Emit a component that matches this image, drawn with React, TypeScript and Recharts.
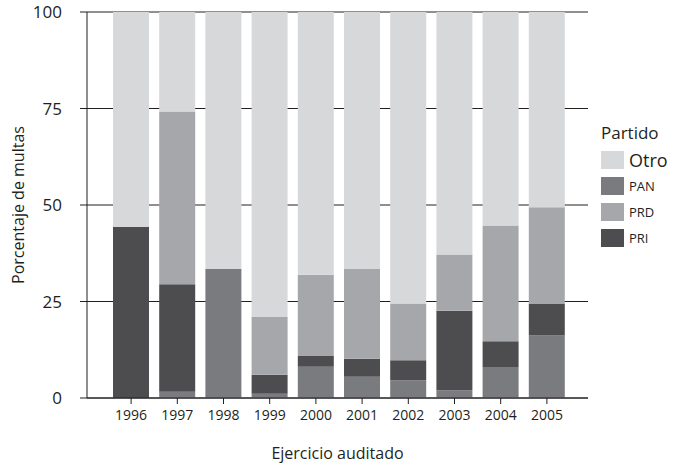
import React from "react";
import { BarChart, Bar, XAxis, YAxis, CartesianGrid } from "recharts";

const years = ["1996", "1997", "1998", "1999", "2000", "2001", "2002", "2003", "2004", "2005"];
const pan = [0, 1.6, 33.4, 1.1, 8.1, 5.5, 4.6, 2.0, 8.0, 16.2];
const pri = [44.3, 27.9, 0, 4.9, 2.8, 4.7, 5.2, 20.6, 6.7, 8.3];
const prd = [0, 44.7, 0, 15.0, 21.0, 23.2, 14.7, 14.6, 30.0, 24.9];
const otro = years.map((_, i) => 100 - pan[i] - pri[i] - prd[i]);
const yTicks = [0, 25, 50, 75, 100];

const legendNames = ["Otro", "PAN", "PRD", "PRI"];
const legendColors = ["#d7d8da", "#7a7b7e", "#a6a7aa", "#4d4d4f"];

const data = years.map((year, i) => ({
  year,
  PAN: pan[i],
  PRI: pri[i],
  PRD: prd[i],
  Otro: otro[i],
}));

const ink = "#231f20";
const font = "'Open Sans', sans-serif";

function LegendBox() {
  return (
    <div style={{ position: "absolute", left: 601, top: 121, fontFamily: font, color: ink }}>
      <div style={{ fontSize: 17, marginBottom: 3 }}>Partido</div>
      {legendNames.map((name, i) => (
        <div key={name} style={{ display: "flex", alignItems: "center", height: 26 }}>
          <span
            style={{
              display: "inline-block",
              width: 23,
              height: 18,
              background: legendColors[i],
              marginRight: 5,
            }}
          />
          <span style={{ fontSize: i === 0 ? 18 : 13 }}>{name}</span>
        </div>
      ))}
    </div>
  );
}

export default function App() {
  return (
    <div style={{ position: "absolute", left: 0, top: 0, width: 693, height: 467, background: "#fff", fontFamily: font }}>
      <BarChart
        width={693}
        height={467}
        data={data}
        barSize={36}
        margin={{ top: 12, right: 105, left: 0, bottom: 0 }}
      >
        <CartesianGrid vertical={false} stroke={ink} strokeWidth={1} />
        <XAxis
          dataKey="year"
          height={69}
          padding={{ left: 21, right: 18 }}
          stroke={ink}
          tickSize={6}
          tickMargin={6}
          tick={{ fill: ink, fontSize: 14, fontFamily: font }}
          label={{
            value: "Ejercicio auditado",
            position: "insideBottom",
            offset: 8,
            style: { fill: ink, fontSize: 16, fontFamily: font },
          }}
        />
        <YAxis
          width={87}
          domain={[0, 100]}
          ticks={yTicks}
          stroke={ink}
          tickSize={7}
          tickMargin={18}
          tick={{ fill: ink, fontSize: 17, fontFamily: font }}
          label={{
            value: "Porcentaje de multas",
            angle: -90,
            position: "insideLeft",
            offset: 18,
            style: { fill: ink, fontSize: 16, fontFamily: font, textAnchor: "middle" },
          }}
        />
        <YAxis
          yAxisId="right"
          orientation="right"
          width={0}
          domain={[0, 100]}
          stroke={ink}
          tick={false}
          tickLine={false}
        />
        <Bar dataKey="PAN" stackId="a" fill="#7a7b7e" isAnimationActive={false} />
        <Bar dataKey="PRI" stackId="a" fill="#4d4d4f" isAnimationActive={false} />
        <Bar dataKey="PRD" stackId="a" fill="#a6a7aa" isAnimationActive={false} />
        <Bar dataKey="Otro" stackId="a" fill="#d7d8da" isAnimationActive={false} />
      </BarChart>
      <LegendBox />
    </div>
  );
}
